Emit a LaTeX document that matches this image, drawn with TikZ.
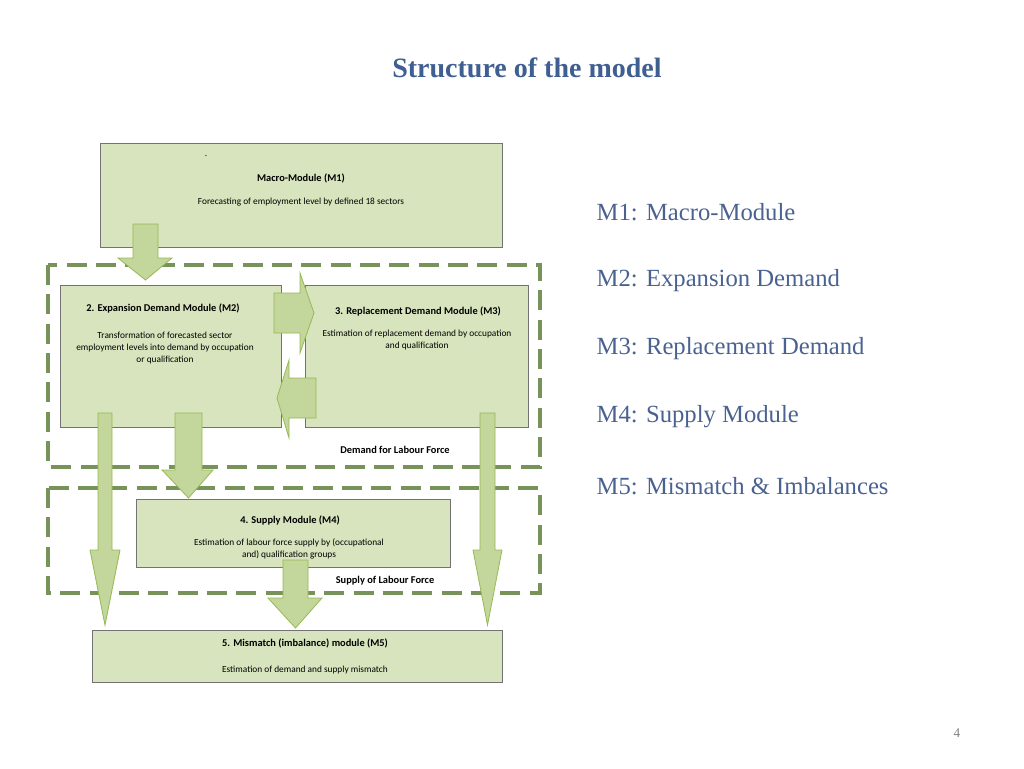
\documentclass[tikz,border=0pt]{standalone}
\usepackage{fontspec}
\setmainfont{Liberation Serif}
\newfontfamily\boxfont{Carlito}
\definecolor{boxfill}{HTML}{D7E4BD}
\definecolor{arrfill}{HTML}{C3D69B}
\definecolor{arrline}{HTML}{98B954}
\definecolor{dashc}{HTML}{77935A}
\definecolor{titlec}{HTML}{3F5F92}
\definecolor{listc}{HTML}{4A6290}
\tikzset{
  module/.style={draw=black!55, fill=boxfill, line width=0.6pt},
  blk/.style={draw=arrline, fill=arrfill, line width=0.6pt},
  group/.style={draw=dashc, line width=3pt, dash pattern=on 15pt off 7pt},
  ttl/.style={font=\boxfont\bfseries\fontsize{7.8}{9}\selectfont},
  txt/.style={font=\boxfont\fontsize{7}{9}\selectfont, align=center},
  item/.style={font=\fontsize{18.5}{20}\selectfont, text=listc, anchor=west}
}
% block arrow down: x-left, x-right of shaft, head left/right, top, head start, tip
\newcommand{\blkdown}[7]{\draw[blk] (#1,#5) -- (#2,#5) -- (#2,#6) -- (#4,#6) -- ({(#1+#2)/2},#7) -- (#3,#6) -- (#1,#6) -- cycle;}
\begin{document}
\begin{tikzpicture}[x=0.75pt, y=-0.75pt]
  \useasboundingbox (0,0) rectangle (1024,768);
  % TITLE
  \node[font=\bfseries\fontsize{21}{24}\selectfont, text=titlec] (title) at (527,68) {Structure of the model};
  % GROUPS
  \draw[group] (48,265) rectangle (540,467);
  \draw[group] (48,488) rectangle (540,593);
  % MODULES
  \draw[module] (100,143) rectangle (502,247);
  \draw[module] (60,285) rectangle (281,427);
  \draw[module] (305,285) rectangle (528,427);
  \draw[module] (136,499) rectangle (450,567);
  \draw[module] (92,630) rectangle (502,682);
  % ARROWS
  \blkdown{133}{158}{118}{172}{224}{258}{280}
  \blkdown{98}{112}{90}{120}{413}{550}{625}
  \blkdown{175}{202}{162}{213}{413}{470}{498}
  \blkdown{480}{495}{473}{502}{413}{550}{625}
  \blkdown{283}{308}{268}{322}{560}{598}{628}
  \draw[blk] (274,293) -- (300,293) -- (300,273) -- (314,313) -- (300,353) -- (300,333) -- (274,333) -- cycle;
  \draw[blk] (316,378) -- (289,378) -- (289,360) -- (277,398) -- (289,438) -- (289,418) -- (316,418) -- cycle;
  % TEXTS
  \node[txt] (dot) at (206,156) {.};
  \node[ttl] (m1t) at (301,178) {Macro-Module (M1)};
  \node[txt] (m1d) at (301,202) {Forecasting of employment level by defined 18 sectors};
  \node[ttl] (m2t) at (163,308) {2. Expansion Demand Module (M2)};
  \node[txt] (m2d) at (165,348) {Transformation of forecasted sector\\employment levels into demand by occupation\\or qualification};
  \node[ttl] (m3t) at (418,311) {3. Replacement Demand Module (M3)};
  \node[txt] (m3d) at (417,340) {Estimation of replacement demand by occupation\\and qualification};
  \node[ttl] (dem) at (395,450) {Demand for Labour Force};
  \node[ttl] (m4t) at (290,520) {4. Supply Module (M4)};
  \node[txt] (m4d) at (289,549) {Estimation of labour force supply by (occupational\\and) qualification groups};
  \node[ttl] (sup) at (385,581) {Supply of Labour Force};
  \node[ttl] (m5t) at (305,643) {5. Mismatch (imbalance) module (M5)};
  \node[txt] (m5d) at (305,670) {Estimation of demand and supply mismatch};
  % LEGEND
  \node[item] (l1) at (592,212) {M1: Macro-Module};
  \node[item] (l2) at (592,281) {M2: Expansion Demand};
  \node[item] (l3) at (592,349) {M3: Replacement Demand};
  \node[item] (l4) at (592,417) {M4: Supply Module};
  \node[item] (l5) at (592,486) {M5: Mismatch \& Imbalances};
  \node[font=\fontsize{10}{12}\selectfont, text=black!50] (pg) at (957,733) {4};
\end{tikzpicture}
\end{document}
